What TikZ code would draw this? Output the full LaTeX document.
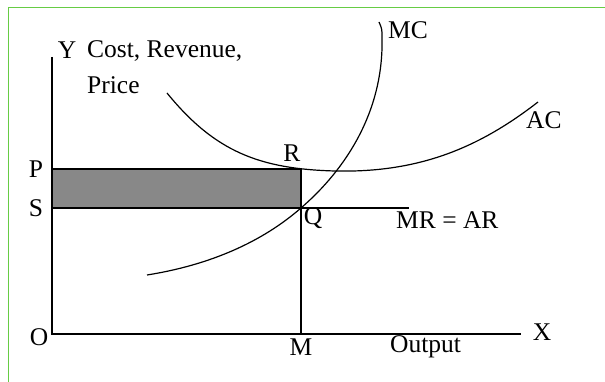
\documentclass[tikz,border=0pt]{standalone}
\usepackage{fontspec}
\setmainfont{Liberation Serif}
\usetikzlibrary{positioning}
\definecolor{framegreen}{RGB}{102,204,68}
\definecolor{profitgray}{RGB}{136,136,136}
\tikzset{
  axis/.style={line width=1.3pt},
  curve/.style={line width=1.2pt},
  lbl/.style={font=\fontsize{25.5}{30}\selectfont, inner sep=2pt},
}

\begin{document}
\begin{tikzpicture}[x=1pt,y=1pt]
  \useasboundingbox (0,0) rectangle (605,382);
  % 枠
  \draw[framegreen,line width=0.8pt] (8,0) -- (8,375) -- (605,375);
  % 主要な点
  \coordinate (O) at (52,48);
  \coordinate (Ytop) at (52,325);
  \coordinate (Xend) at (521,48);
  \coordinate (P) at (52,213);
  \coordinate (S) at (52,174);
  \coordinate (R) at (301,213);
  \coordinate (Q) at (301,174);
  \coordinate (M) at (301,48);
  \coordinate (MRend) at (409,174);
  % 超過利潤の部分
  \fill[profitgray] (S) rectangle (R);
  \draw[axis] (P) -- (R) -- (Q);
  \draw[axis] (S) -- (Q) -- (MRend);
  \draw[axis] (Q) -- (M);
  % 軸
  \draw[axis] (Ytop) -- (O) -- (Xend);
  % MC曲線
  \draw[curve] (147,107) .. controls (210,117) and (262,140) .. (Q)
    .. controls (345,212) and (384,270) .. (382,345)
    .. controls (382,353) .. (379,360);
  % AC曲線
  \draw[curve] (167,289) .. controls (215,230) and (260,213) .. (335,211)
    .. controls (420,209) and (480,235) .. (538,280);
  % ラベル
  \node[lbl] (lblO) at (39,45) {O};
  \node[lbl] (lblX) at (542,50) {X};
  \node[lbl] (lblM) at (301,35) {M};
  \node[lbl,anchor=west] (lblOut) at (388,35) {Output};
  \node[lbl] (lblY) at (67,332) {Y};
  \node[lbl,anchor=base west] (lblCost) at (85,324) {Cost, Revenue,};
  \node[lbl,anchor=base west] (lblPrice) at (85,288) {Price};
  \node[lbl] (lblP) at (36,213) {P};
  \node[lbl] (lblS) at (36,174) {S};
  \node[lbl] (lblR) at (292,229) {R};
  \node[lbl] (lblQ) at (313,164) {Q};
  \node[lbl,anchor=west] (lblMR) at (394,162) {MR = AR};
  \node[lbl,anchor=west] (lblMC) at (386,352) {MC};
  \node[lbl,anchor=west] (lblAC) at (524,262) {AC};
\end{tikzpicture}
\end{document}
